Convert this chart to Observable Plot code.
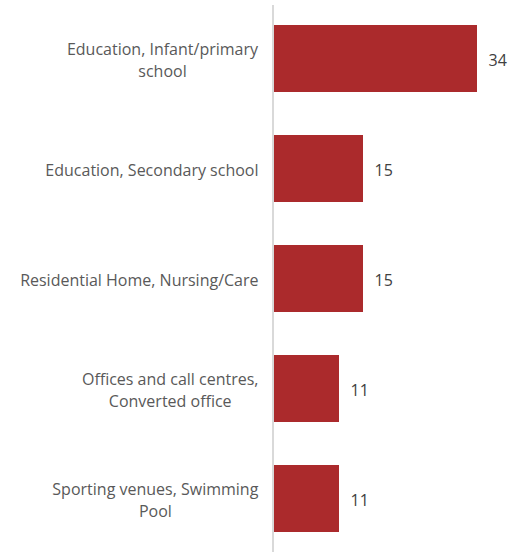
<!DOCTYPE html>
<html>
<head>
<meta charset="utf-8">
<script src="https://cdn.jsdelivr.net/npm/d3@7"></script>
<script src="https://cdn.jsdelivr.net/npm/@observablehq/plot@0.6"></script>
<style>
  html, body { margin: 0; padding: 0; background: #fff; }
  #chart { width: 525px; height: 552px; }
</style>
</head>
<body>
<div id="chart"></div>
<script>
const categories = [
  "Education, Infant/primary\nschool",
  "Education, Secondary school",
  "Residential Home, Nursing/Care",
  "Offices and call centres,\nConverted office",
  "Sporting venues, Swimming\nPool"
];
const values = [34, 15, 15, 11, 11];

const data = categories.map((c, i) => ({category: c, value: values[i]}));

const chart = Plot.plot({
  width: 525,
  height: 552,
  marginLeft: 273,
  marginRight: 12,
  marginTop: 5,
  marginBottom: 0,
  style: {fontFamily: "Open Sans", fontSize: "16px", background: "#fff"},
  x: {domain: [0, 40], axis: null},
  y: {type: "band", domain: categories, paddingInner: 0.39, paddingOuter: 0.175, axis: null},
  marks: [
    Plot.barX(data, {x: "value", y: "category", fill: "#ab2a2c"}),
    Plot.ruleX([0], {stroke: "#d9d9d9", strokeWidth: 2, dx: -0.5}),
    Plot.text(data, {x: "value", y: "category", text: d => String(d.value), textAnchor: "start", dx: 11, dy: 2, fill: "#404040", fontSize: 16}),
    Plot.axisY({tickSize: 0, tickPadding: 15, label: null, fill: "#595959", fontSize: 16, lineHeight: 1.4})
  ]
});
document.getElementById("chart").appendChild(chart);

// Center multi-line labels within their right-aligned block (as in the reference)
chart.querySelectorAll('g[aria-label="y-axis tick label"] text').forEach(t => {
  const spans = t.querySelectorAll("tspan");
  if (spans.length > 1) {
    const w = t.getBBox().width;
    t.setAttribute("text-anchor", "middle");
    spans.forEach(s => s.setAttribute("x", String(-w / 2)));
  }
});
</script>
</body>
</html>
